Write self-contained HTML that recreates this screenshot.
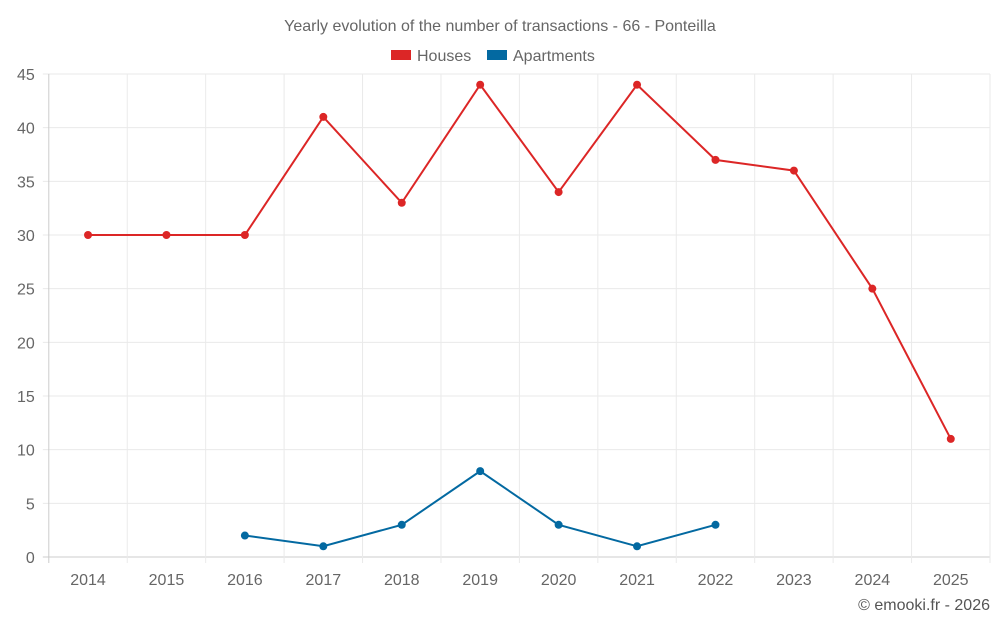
<!DOCTYPE html>
<html><head><meta charset="utf-8"><style>
body{margin:0;background:#fff;font-family:"Liberation Sans",sans-serif;}
svg{display:block}
</style></head><body>
<svg id="chart" width="1000" height="625">
<text x="500" y="31" text-anchor="middle" font-size="16" fill="#666">Yearly evolution of the number of transactions - 66 - Ponteilla</text>
<g><rect x="391" y="50" width="20" height="10" fill="#dc2626"/><text x="417" y="61" font-size="16" fill="#666">Houses</text></g>
<g><rect x="487" y="50" width="20" height="10" fill="#0369a1"/><text x="513" y="61" font-size="16" fill="#666">Apartments</text></g>
<g id="grid"></g><g id="axes"></g><g id="series"></g>
<text x="990" y="610" text-anchor="end" font-size="16" fill="#555">© emooki.fr - 2026</text>
</svg>
<script>
const years=["2014","2015","2016","2017","2018","2019","2020","2021","2022","2023","2024","2025"];
const houses=[30,30,30,41,33,44,34,44,37,36,25,11];
const apartments=[null,null,2,1,3,8,3,1,3,null,null,null];
const yTicks=[0,5,10,15,20,25,30,35,40,45];
const L=48.8,R=990,T=74,B=557,yMax=45;
const bw=(R-L)/years.length;
const xs=i=>L+bw*(i+0.5);
const ys=v=>B-(v/yMax)*(B-T);
const NS="http://www.w3.org/2000/svg";
function mk(tag,attrs,parent){const e=document.createElementNS(NS,tag);for(const k in attrs)e.setAttribute(k,attrs[k]);parent.appendChild(e);return e;}
const grid=document.getElementById('grid'),axes=document.getElementById('axes'),ser=document.getElementById('series');
yTicks.forEach(v=>{
 const l=mk('line',{x1:L-6,x2:R,y1:ys(v),y2:ys(v),stroke:v===0?'#ccc':'#eaeaea','stroke-width':1},grid);
 
 
 const t=mk('text',{x:L-14,y:ys(v)+6,'text-anchor':'end','font-size':16,fill:'#666'},axes);
 t.textContent=v;
 
 
});
for(let i=0;i<=years.length;i++){
 const x=L+bw*i;
 const l=mk('line',{x1:x,x2:x,y1:T,y2:B+6,stroke:i===0?'#ccc':'#eaeaea','stroke-width':1},grid);
 
 
}
years.forEach((y,i)=>{
 const t=mk('text',{x:xs(i),y:585,'text-anchor':'middle','font-size':16,fill:'#666'},axes);
 t.textContent=y;
 
 
});
function drawSeries(data,color,name){
 let d='';let started=false;
 data.forEach((v,i)=>{if(v===null){started=false;return;}d+=(started?'L':'M')+xs(i)+' '+ys(v)+' ';started=true;});
 const p=mk('path',{d:d,fill:'none',stroke:color,'stroke-width':2},ser);
 
 
 data.forEach((v,i)=>{if(v===null)return;
  const c=mk('circle',{cx:xs(i),cy:ys(v),r:4,fill:color},ser);
  
  
 });
}
drawSeries(houses,'#dc2626','houses');
drawSeries(apartments,'#0369a1','apartments');
</script>
</body></html>
